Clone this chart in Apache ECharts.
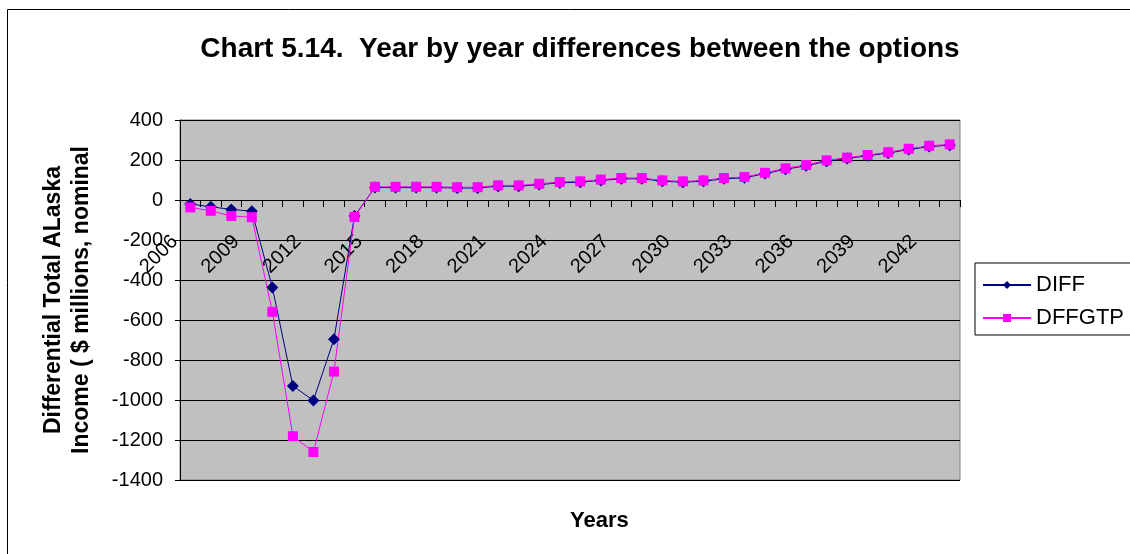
<!DOCTYPE html>
<html>
<head>
<meta charset="utf-8">
<script src="https://cdn.jsdelivr.net/npm/echarts@6/dist/echarts.min.js"></script>
<style>
html,body{margin:0;padding:0;background:#fff;}
#chart{width:1130px;height:554px;}
</style>
</head>
<body>
<div id="chart"></div>
<script>
const years = ['2006','2007','2008','2009','2010','2011','2012','2013','2014','2015','2016','2017','2018','2019','2020','2021','2022','2023','2024','2025','2026','2027','2028','2029','2030','2031','2032','2033','2034','2035','2036','2037','2038','2039','2040','2041','2042','2043'];
const diff = [-20,-34,-47,-56,-437,-930,-1002,-696,-80,62,62,62,62,60,60,69,69,77,86,89,98,106,106,94,89,94,106,111,132,154,171,194,208,221,235,252,267,274];
const dffgtp = [-37,-54,-80,-86,-559,-1181,-1260,-858,-85,66,66,66,66,64,64,73,73,81,90,93,102,110,110,98,93,98,110,115,136,158,175,198,212,225,239,256,271,278];
const yTicks = {min:-1400, max:400, interval:200};
const titleText = 'Chart 5.14.  Year by year differences between the options';
const yName = 'Differential Total ALaska\nIncome ( $ millions, nominal';
const xName = 'Years';

const FONT = 'Liberation Sans, Arial, sans-serif';
const GRID = {left:180,right:170,top:120,bottom:74};
const plotH = 554 - GRID.top - GRID.bottom;
// distance from the bottom of the plot to the zero line, via the axis scale
const zeroOffset = -plotH * (0 - yTicks.min) / (yTicks.max - yTicks.min);

const chart = echarts.init(document.getElementById('chart'));
chart.setOption({
  animation:false,
  backgroundColor:'#fff',
  title:{text:titleText,left:575,textAlign:'center',top:30,
    textStyle:{fontFamily:FONT,fontSize:28,fontWeight:'bold',color:'#000'}},
  graphic:[
    {type:'rect',shape:{x:7.5,y:9.5,width:1200,height:700},style:{fill:null,stroke:'#000',lineWidth:1},silent:true},
    {type:'text',left:570,top:510,style:{text:xName,font:'bold 22px '+FONT,fill:'#000',textAlign:'center'}}
  ],
  legend:{orient:'vertical',left:975,top:263,padding:[11,10,6,7],itemGap:11,
    itemWidth:48,itemHeight:10,borderColor:'#000',borderWidth:1,backgroundColor:'#fff',
    textStyle:{fontFamily:FONT,fontSize:22,color:'#000'},data:['DIFF','DFFGTP']},
  grid:Object.assign({show:true,backgroundColor:'#C0C0C0',borderColor:'#808080',borderWidth:1},GRID),
  xAxis:{type:'category',data:years,boundaryGap:true,position:'bottom',offset:zeroOffset,
    axisLine:{onZero:false,lineStyle:{color:'#000',width:1}},
    axisTick:{show:true,interval:0,length:7,lineStyle:{color:'#000'}},
    axisLabel:{interval:2,rotate:45,margin:23,padding:[0,22,0,0],fontFamily:FONT,fontSize:20,color:'#000'},
    splitLine:{show:false}},
  yAxis:{type:'value',min:yTicks.min,max:yTicks.max,interval:yTicks.interval,
    name:yName,nameLocation:'middle',nameRotate:90,nameGap:84,
    nameTextStyle:{fontFamily:FONT,fontSize:23,fontWeight:'bold',color:'#000',lineHeight:28},
    axisLine:{show:true,lineStyle:{color:'#000'}},
    axisTick:{show:true,length:5,lineStyle:{color:'#000'}},
    axisLabel:{fontFamily:FONT,fontSize:20,color:'#000',margin:17,formatter:function(v){return String(v);}},
    splitLine:{show:true,lineStyle:{color:'#000',width:1}}},
  series:[
    {name:'DIFF',type:'line',data:diff,symbol:'diamond',symbolSize:12,
      lineStyle:{color:'#000080',width:1},itemStyle:{color:'#000080'}},
    {name:'DFFGTP',type:'line',data:dffgtp,symbol:'rect',symbolSize:10,
      lineStyle:{color:'#FF00FF',width:1},itemStyle:{color:'#FF00FF'}}
  ]
});
</script>
</body>
</html>
